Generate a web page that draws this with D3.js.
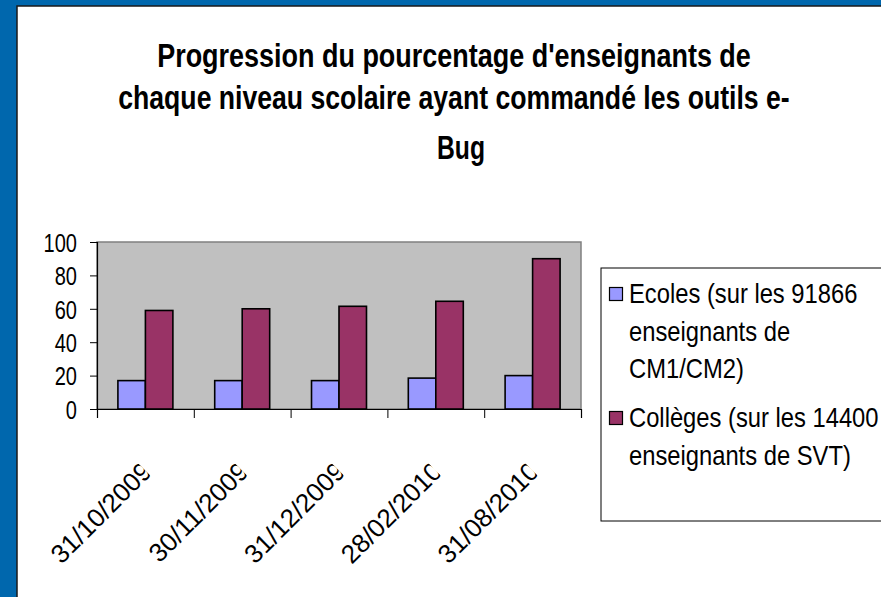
<!DOCTYPE html>
<html lang="fr">
<head>
<meta charset="UTF-8">
<title>Progression e-Bug</title>
<script src="https://cdn.jsdelivr.net/npm/d3@7"></script>
<style>
  body { margin: 0; background: #0067ad; }
  svg { display: block; }
  text { font-family: "Liberation Sans", Arial, sans-serif; }
</style>
</head>
<body>
<script>
  // données
  let dates = ["31/10/2009", "30/11/2009", "31/12/2009", "28/02/2010", "31/08/2010"];
  let ecoles = [17, 17, 17, 18.5, 20];
  let colleges = [59, 60, 61.5, 64.5, 90];
  let yTicks = [0, 20, 40, 60, 80, 100];
  let seriesNames = ["Ecoles", "Collèges"];
  let legendLines = [
    ["Ecoles (sur les 91866", "enseignants de", "CM1/CM2)"],
    ["Collèges (sur les 14400", "enseignants de SVT)"]
  ];
  let titleLines = [
    "Progression du pourcentage d'enseignants de",
    "chaque niveau scolaire ayant commandé les outils e-",
    "Bug"
  ];

  let w = 881, h = 597;
  let colors = ["#9999ff", "#993366"];
  let plot = { left: 97, right: 581, top: 242, bottom: 409 };

  let svg = d3.select("body").append("svg").attr("width", w).attr("height", h);

  // cadre bleu + panneau blanc
  svg.append("rect").attr("width", w).attr("height", h).attr("fill", "#0067ad");
  svg.append("rect").attr("x", 17).attr("y", 6).attr("width", 900).attr("height", 700)
    .attr("fill", "white").attr("stroke", "#1a1a1a").attr("stroke-width", 1.5);

  // titre : police étroite, on comprime horizontalement chaque ligne
  let titleWidths = [594, 672, 48];
  let titleCenter = [454, 454, 461];
  let titleBase = [67, 109, 159];
  titleLines.forEach(function (t, i) {
    let g = svg.append("g");
    let txt = g.append("text")
      .attr("text-anchor", "middle")
      .attr("font-size", "34px").attr("font-weight", "bold").attr("fill", "black")
      .text(t);
    let sx = titleWidths[i] / txt.node().getComputedTextLength();
    g.attr("transform", "translate(" + titleCenter[i] + "," + titleBase[i] + ") scale(" + sx + ",1)");
  });

  // échelles
  let x0 = d3.scaleBand().domain(dates).range([plot.left, plot.right])
    .paddingInner(0.432).paddingOuter(0.216);
  let x1 = d3.scaleBand().domain(seriesNames).range([0, x0.bandwidth()]);
  let y = d3.scaleLinear().domain([0, 100]).range([plot.bottom, plot.top]);
  let xEdges = d3.scaleLinear().domain([0, dates.length]).range([plot.left, plot.right]);

  // fond gris
  svg.append("rect").attr("x", plot.left).attr("y", plot.top)
    .attr("width", plot.right - plot.left).attr("height", plot.bottom - plot.top)
    .attr("fill", "#c0c0c0").attr("stroke", "#808080").attr("stroke-width", 1.5);

  // barres
  let groups = svg.selectAll("g.grp").data(dates).enter().append("g")
    .attr("class", "grp")
    .attr("transform", d => "translate(" + x0(d) + ",0)");
  groups.selectAll("rect")
    .data((d, i) => [{ s: 0, v: ecoles[i] }, { s: 1, v: colleges[i] }])
    .enter().append("rect")
    .attr("x", d => x1(seriesNames[d.s]))
    .attr("y", d => y(d.v))
    .attr("width", x1.bandwidth())
    .attr("height", d => y(0) - y(d.v))
    .attr("fill", d => colors[d.s])
    .attr("stroke", "black").attr("stroke-width", 1.6);

  // axe Y
  let yAxis = svg.append("g").attr("transform", "translate(" + plot.left + ",0)")
    .call(d3.axisLeft(y).tickValues(yTicks).tickSize(7).tickFormat(d3.format("d")));
  yAxis.select(".domain").attr("stroke", "black").attr("stroke-width", 1.2);
  yAxis.selectAll(".tick line").attr("stroke", "black");
  yAxis.selectAll("text")
    .attr("font-size", "26px").attr("font-family", "Liberation Sans, Arial, sans-serif")
    .attr("fill", "black")
    .attr("x", -26).attr("dy", "0.36em")
    .attr("transform", "scale(0.77,1)");

  // axe X : graduations aux bords des catégories
  let xTickAxis = svg.append("g").attr("transform", "translate(0," + plot.bottom + ")")
    .call(d3.axisBottom(xEdges).tickValues(d3.range(dates.length + 1)).tickSize(9).tickFormat(""));
  xTickAxis.select(".domain").attr("stroke", "black").attr("stroke-width", 1.2);
  xTickAxis.selectAll(".tick line").attr("stroke", "black");

  // étiquettes des dates (tournées, dernier caractère rogné)
  svg.append("defs").append("clipPath").attr("id", "cut")
    .append("rect").attr("x", -300).attr("y", -40).attr("width", 296).attr("height", 80);
  let xAxis = svg.append("g").attr("transform", "translate(0," + plot.bottom + ")")
    .call(d3.axisBottom(x0).tickSize(0));
  xAxis.select(".domain").remove();
  xAxis.selectAll("text")
    .attr("font-size", "26px").attr("font-family", "Liberation Sans, Arial, sans-serif")
    .attr("fill", "black")
    .attr("x", 0).attr("y", 0).attr("dy", 0)
    .attr("text-anchor", "end")
    .attr("transform", "translate(8,64) rotate(-45)")
    .attr("clip-path", "url(#cut)");

  // légende
  let lg = svg.append("g");
  lg.append("rect").attr("x", 601).attr("y", 268).attr("width", 300).attr("height", 253)
    .attr("fill", "white").attr("stroke", "black").attr("stroke-width", 1);
  let entryBase = [303, 427];
  legendLines.forEach(function (lines, k) {
    lg.append("rect").attr("x", 609.5).attr("y", entryBase[k] - 15.5)
      .attr("width", 13).attr("height", 13)
      .attr("fill", colors[k]).attr("stroke", "black").attr("stroke-width", 1.2);
    lines.forEach(function (t, j) {
      lg.append("text")
        .attr("transform", "translate(629," + (entryBase[k] + j * 37.5) + ") scale(0.88,1)")
        .attr("font-size", "27px").attr("fill", "black")
        .text(t);
    });
  });
</script>
</body>
</html>
